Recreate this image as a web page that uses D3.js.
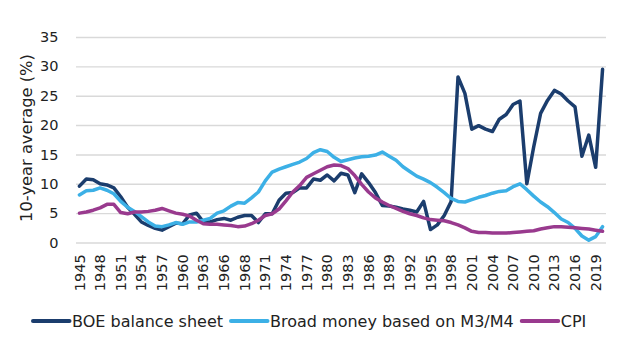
<!DOCTYPE html>
<html>
<head>
<meta charset="utf-8">
<script src="https://cdn.jsdelivr.net/npm/d3@7"></script>
<style>
body { margin: 0; background: #fff; }
text { font-family: "DejaVu Sans", Verdana, sans-serif; fill: #222; }
</style>
</head>
<body>
<div class="chart"></div>
<script>
// year labels as they appear on the axis (1967 shows up twice in the source)
var categories = ["1945","1946","1947","1948","1949","1950","1951","1952","1953","1954",
  "1955","1956","1957","1958","1959","1960","1961","1962","1963","1964",
  "1965","1966","1967","1967","1968","1969","1970","1971","1972","1973",
  "1974","1975","1976","1977","1978","1979","1980","1981","1982","1983",
  "1984","1985","1986","1987","1988","1989","1990","1991","1992","1993",
  "1994","1995","1996","1997","1998","1999","2000","2001","2002","2003",
  "2004","2005","2006","2007","2008","2009","2010","2011","2012","2013",
  "2014","2015","2016","2017","2018","2019","2020"];

var boe = [9.6,10.8,10.7,10.0,9.8,9.3,7.8,6.0,4.8,3.5,
  2.9,2.4,2.1,2.7,3.3,3.2,4.7,5.0,3.5,3.5,
  3.9,4.1,3.8,4.3,4.6,4.6,3.4,4.9,4.9,7.2,
  8.4,8.5,9.3,9.3,10.8,10.6,11.5,10.5,11.8,11.5,
  8.5,11.7,10.2,8.5,6.3,6.2,6.0,5.7,5.5,5.2,
  7.0,2.2,3.0,4.6,7.0,28.2,25.4,19.3,19.9,19.3,
  18.9,21.0,21.8,23.5,24.1,10.0,16.3,22.0,24.2,25.9,
  25.3,24.1,23.1,14.7,18.3,12.8,29.5];

var broadMoney = [8.1,8.8,8.9,9.3,8.9,8.3,7.0,6.0,5.3,4.4,
  3.5,2.8,2.7,3.0,3.4,3.1,3.5,3.5,3.8,4.1,
  5.0,5.4,6.2,6.8,6.7,7.6,8.6,10.5,12.0,12.5,
  12.9,13.3,13.7,14.3,15.3,15.8,15.5,14.5,13.8,14.1,
  14.4,14.6,14.7,14.9,15.4,14.7,14.0,12.9,12.1,11.3,
  10.8,10.2,9.4,8.5,7.5,7.0,6.9,7.3,7.7,8.0,
  8.4,8.7,8.8,9.5,10.0,9.0,7.9,6.9,6.1,5.1,
  4.0,3.4,2.4,1.1,0.4,1.0,2.7];

var cpi = [5.0,5.2,5.5,5.9,6.5,6.5,5.1,4.9,5.2,5.2,
  5.3,5.5,5.8,5.4,5.0,4.8,4.5,3.8,3.2,3.1,
  3.1,3.0,2.9,2.7,2.8,3.2,3.8,4.6,4.9,5.7,
  7.1,8.6,9.7,11.1,11.7,12.3,12.9,13.2,13.1,12.6,
  11.4,9.9,8.6,7.6,6.9,6.3,5.8,5.3,4.9,4.6,
  4.2,3.9,3.8,3.7,3.4,3.0,2.5,1.9,1.7,1.7,
  1.6,1.6,1.6,1.7,1.8,1.9,2.0,2.3,2.5,2.7,
  2.7,2.6,2.5,2.4,2.3,2.1,1.9];

var seriesNames = ["BOE balance sheet", "Broad money based on M3/M4", "CPI"];
var yTicks = [0, 5, 10, 15, 20, 25, 30, 35];

var colors = ["#1b3d6d", "#3cb0e6", "#993a8e"];

var width = 638, height = 350;
var plot = {left: 76, right: 606, top: 37, bottom: 242.5};

var svg = d3.select(".chart")
    .append("svg")
    .attr("width", width)
    .attr("height", height);

//scales
var x = d3.scaleBand()
    .domain(d3.range(categories.length))
    .range([plot.left, plot.right]);

var y = d3.scaleLinear()
    .domain([0, 35])
    .range([plot.bottom, plot.top]);

var xc = function(i){ return x(i) + x.bandwidth() / 2; };

//y axis with gridlines
var yAxis = svg.append("g")
    .attr("transform", "translate(" + plot.left + ",0)")
    .call(d3.axisLeft(y)
        .tickValues(yTicks)
        .tickSize(-(plot.right - plot.left))
        .tickPadding(17.5));
yAxis.select(".domain").remove();
yAxis.selectAll("line")
    .attr("stroke", "#d9d9d9")
    .attr("stroke-width", 1.4);
yAxis.selectAll("text")
    .style("font-size", "14.5px")
    .attr("fill", "#222");

//x axis, every third year
var xAxis = svg.append("g")
    .attr("transform", "translate(0," + plot.bottom + ")")
    .call(d3.axisBottom(x)
        .tickValues(d3.range(0, categories.length, 3))
        .tickFormat(function(i){ return categories[i]; })
        .tickSize(0));
xAxis.select(".domain").remove();
xAxis.selectAll("text")
    .style("font-size", "14.5px")
    .attr("fill", "#222")
    .attr("text-anchor", "end")
    .attr("y", 0)
    .attr("dy", "0.35em")
    .attr("transform", "translate(0,11.8) rotate(-90)");

//y title
svg.append("text")
    .attr("transform", "translate(26,138) rotate(-90)")
    .attr("text-anchor", "middle")
    .attr("dy", "0.35em")
    .style("font-size", "16.3px")
    .text("10-year average (%)");

//lines
var line = d3.line()
    .x(function(d, i){ return xc(i); })
    .y(function(d){ return y(d); });

var series = [boe, broadMoney, cpi];

svg.append("g")
    .selectAll("path")
    .data(series)
    .enter()
    .append("path")
    .attr("d", line)
    .attr("fill", "none")
    .attr("stroke", function(d, i){ return colors[i]; })
    .attr("stroke-width", 3.5)
    .attr("stroke-linejoin", "round")
    .attr("stroke-linecap", "round");

//legend
var legend = svg.append("g").attr("class", "legend");
var lx = 33, ly = 321;
seriesNames.forEach(function(name, i){
    legend.append("line")
        .attr("x1", lx).attr("x2", lx + 36.5)
        .attr("y1", ly).attr("y2", ly)
        .attr("stroke", colors[i])
        .attr("stroke-width", 4)
        .attr("stroke-linecap", "round");
    var t = legend.append("text")
        .attr("x", lx + 39)
        .attr("y", ly)
        .attr("dy", "0.35em")
        .style("font-size", "16px")
        .text(name);
    lx = lx + 39 + t.node().getComputedTextLength() + 8;
});
</script>
</body>
</html>
